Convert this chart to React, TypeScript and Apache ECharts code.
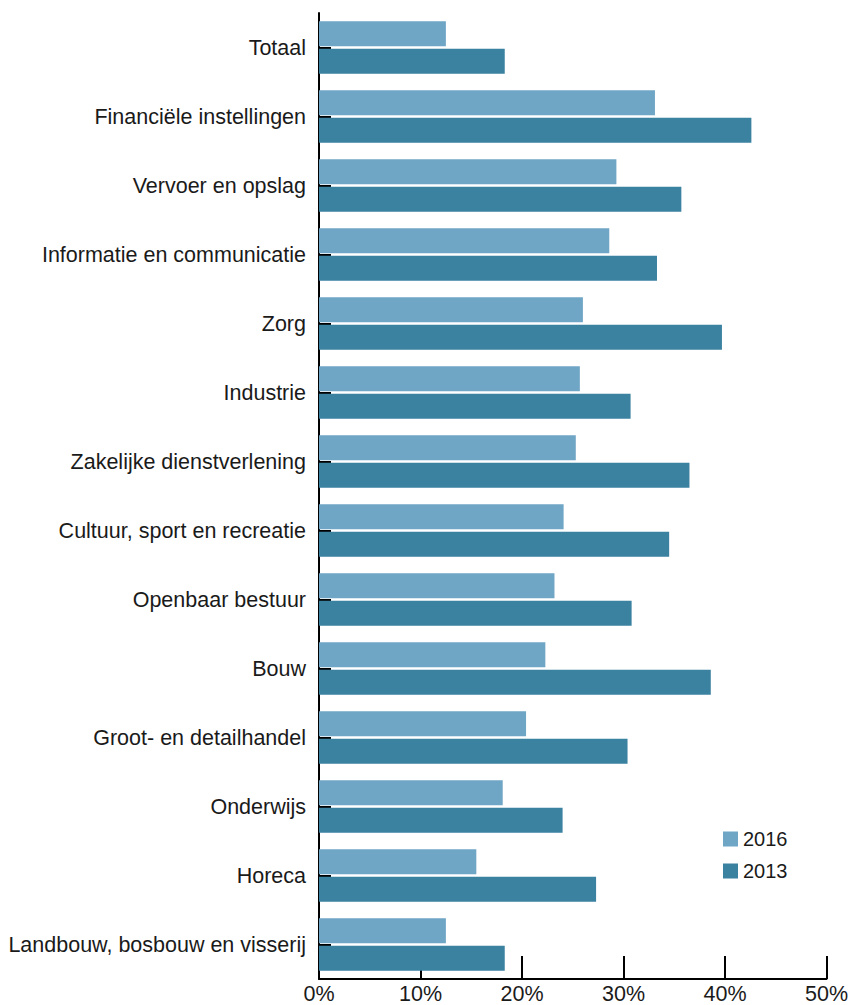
import React, { useEffect, useRef } from "react";
import * as echarts from "echarts";

const categories = [
  "Totaal",
  "Financiële instellingen",
  "Vervoer en opslag",
  "Informatie en communicatie",
  "Zorg",
  "Industrie",
  "Zakelijke dienstverlening",
  "Cultuur, sport en recreatie",
  "Openbaar bestuur",
  "Bouw",
  "Groot- en detailhandel",
  "Onderwijs",
  "Horeca",
  "Landbouw, bosbouw en visserij",
];

const values2016 = [12.5, 33.1, 29.3, 28.6, 26.0, 25.7, 25.3, 24.1, 23.2, 22.3, 20.4, 18.1, 15.5, 12.5];
const values2013 = [18.3, 42.6, 35.7, 33.3, 39.7, 30.7, 36.5, 34.5, 30.8, 38.6, 30.4, 24.0, 27.3, 18.3];

const xTicks = { min: 0, max: 50, interval: 10 };

export default function App() {
  const ref = useRef<HTMLDivElement>(null);
  useEffect(() => {
    if (!ref.current) return;
    const chart = echarts.init(ref.current, undefined, { renderer: "svg" });
    const font = "Liberation Sans";
    chart.setOption({
      animation: false,
      textStyle: { fontFamily: font },
      grid: { left: 319, right: 23, top: 13, bottom: 24, containLabel: false },
      legend: {
        orient: "vertical",
        left: 718,
        top: 824,
        icon: "rect",
        itemWidth: 15,
        itemHeight: 15,
        itemGap: 12,
        itemTextGap: 10,
        textStyle: { fontSize: 20, color: "#1a1a1a", fontFamily: font },
        data: ["2016", "2013"],
      },
      xAxis: {
        type: "value",
        min: xTicks.min,
        max: xTicks.max,
        interval: xTicks.interval,
        axisLine: { show: true, lineStyle: { color: "#000", width: 2 } },
        axisTick: { show: true, inside: true, length: 23, lineStyle: { color: "#000", width: 2 } },
        splitLine: { show: false },
        axisLabel: { formatter: "{value}%", fontSize: 21.5, color: "#1a1a1a", margin: 4, fontFamily: font },
      },
      yAxis: {
        type: "category",
        inverse: true,
        data: categories,
        axisLine: { show: true, lineStyle: { color: "#000", width: 2 } },
        axisTick: { show: true, inside: true, alignWithLabel: true, length: 12, lineStyle: { color: "#000", width: 2 } },
        axisLabel: { fontSize: 21.5, color: "#1a1a1a", margin: 13, fontFamily: font },
      },
      series: [
        {
          name: "2016",
          type: "bar",
          data: values2016,
          barWidth: 25,
          barGap: "10%",
          itemStyle: { color: "#6fa5c5" },
        },
        {
          name: "2013",
          type: "bar",
          data: values2013,
          barWidth: 25,
          barGap: "10%",
          itemStyle: { color: "#3b81a0" },
        },
      ],
    });
    return () => chart.dispose();
  }, []);
  return (
    <div
      ref={ref}
      style={{ position: "absolute", left: 0, top: 0, width: 851, height: 1005, background: "#fff" }}
    />
  );
}
